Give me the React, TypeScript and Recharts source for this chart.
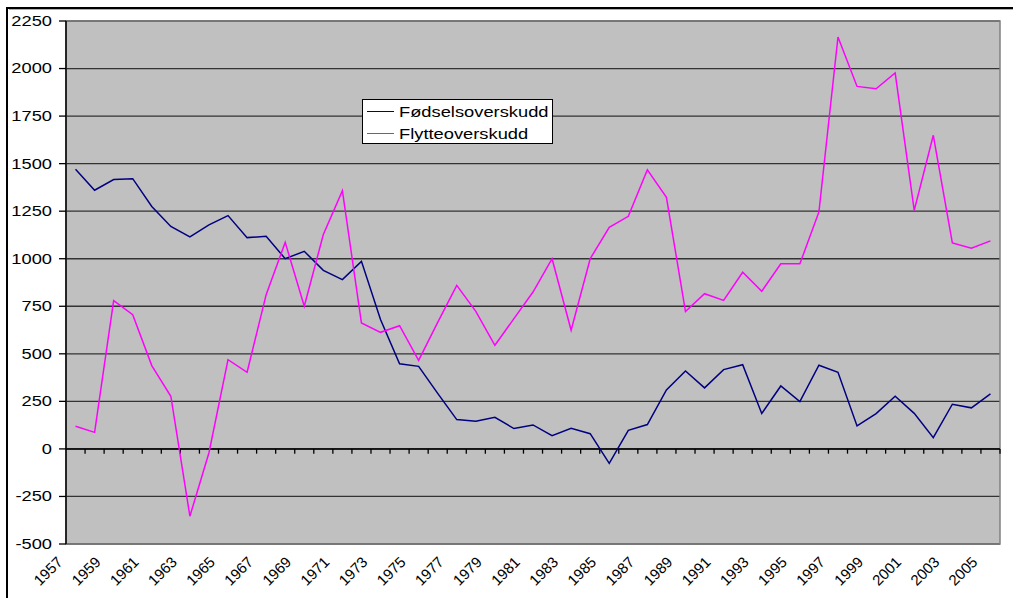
import React from 'react';
import {
  LineChart,
  Line,
  XAxis,
  YAxis,
  CartesianGrid,
  ReferenceLine,
  ReferenceArea,
  Legend,
} from 'recharts';

const years = [
  1957, 1958, 1959, 1960, 1961, 1962, 1963, 1964, 1965, 1966,
  1967, 1968, 1969, 1970, 1971, 1972, 1973, 1974, 1975, 1976,
  1977, 1978, 1979, 1980, 1981, 1982, 1983, 1984, 1985, 1986,
  1987, 1988, 1989, 1990, 1991, 1992, 1993, 1994, 1995, 1996,
  1997, 1998, 1999, 2000, 2001, 2002, 2003, 2004, 2005,
];

const fodselsoverskudd = [
  1470, 1360, 1416, 1421, 1275, 1170, 1115, 1178, 1227, 1111,
  1118, 1000, 1039, 939, 890, 986, 680, 448, 434, 292,
  154, 145, 166, 107, 126, 70, 108, 80, -76, 98,
  128, 310, 410, 321, 417, 443, 186, 331, 249, 440,
  403, 121, 186, 277, 187, 59, 235, 216, 289,
];

const flytteoverskudd = [
  119, 87, 780, 706, 438, 277, -354, -20, 469, 403,
  811, 1086, 750, 1127, 1358, 662, 613, 648, 466, 665,
  860, 723, 545, 685, 825, 1000, 624, 1000, 1165, 1223,
  1468, 1323, 722, 816, 781, 929, 829, 973, 973, 1246,
  2166, 1906, 1894, 1977, 1254, 1649, 1083, 1055, 1094,
];

const yTicks = [-500, -250, 0, 250, 500, 750, 1000, 1250, 1500, 1750, 2000, 2250];
const yearLabels = [
  1957, 1959, 1961, 1963, 1965, 1967, 1969, 1971, 1973, 1975, 1977, 1979, 1981,
  1983, 1985, 1987, 1989, 1991, 1993, 1995, 1997, 1999, 2001, 2003, 2005,
];

const seriesNames = ['Fødselsoverskudd', 'Flytteoverskudd'];
const seriesKeys = ['fodsel', 'flytte'];
const seriesColors = ['#000080', '#FF00FF'];

const data = years.map((year, i) => ({
  year,
  fodsel: fodselsoverskudd[i],
  flytte: flytteoverskudd[i],
}));

// category boundaries, where Excel puts its tick marks
const boundaries = years.map((y) => y + 0.5);

const FONT = '"Liberation Sans", Arial, sans-serif';
const STRETCH = 1.22;

const YTick = ({ x, y, payload }: any) => (
  <text
    transform={`translate(${x},${y}) scale(${STRETCH},1)`}
    textAnchor="end"
    dominantBaseline="central"
    fontSize={15}
    fontFamily={FONT}
    fill="#000"
  >
    {payload.value}
  </text>
);

const XTick = ({ x, y, payload }: any) => (
  <text
    transform={`translate(${x - 12},${y + 19}) rotate(-45)`}
    textAnchor="end"
    fontSize={15}
    fontFamily={FONT}
    fill="#000"
  >
    {payload.value}
  </text>
);

const LegendBox = () => (
  <div
    style={{
      width: 191,
      height: 45,
      boxSizing: 'border-box',
      border: '1px solid #000',
      background: '#fff',
      paddingLeft: 4,
    }}
  >
    {seriesNames.map((name, i) => (
      <div key={name} style={{ display: 'flex', alignItems: 'center', height: 22 }}>
        <span
          style={{
            display: 'inline-block',
            width: 27,
            borderTop: `1.5px solid ${seriesColors[i]}`,
            marginRight: 5,
          }}
        />
        <span
          style={{
            display: 'inline-block',
            fontFamily: FONT,
            fontSize: 15,
            color: '#000',
            whiteSpace: 'nowrap',
            transform: `scaleX(${STRETCH})`,
            transformOrigin: 'left center',
          }}
        >
          {name}
        </span>
      </div>
    ))}
  </div>
);

export default function App() {
  return (
    <div
      style={{
        position: 'absolute',
        left: 0,
        top: 0,
        width: 1013,
        height: 598,
        overflow: 'hidden',
        background: '#fff',
      }}
    >
      <div style={{ position: 'absolute', left: 7, top: 7, width: 1006, height: 2, background: '#000' }} />
      <div style={{ position: 'absolute', left: 9, top: 9, width: 1004, height: 1, background: '#b0b0b0' }} />
      <div style={{ position: 'absolute', left: 6, top: 7, width: 2, height: 591, background: '#000' }} />
      <div style={{ position: 'absolute', left: 9, top: 9 }}>
        <LineChart
          width={1004}
          height={589}
          data={data}
          margin={{ top: 12, right: 13, left: 0, bottom: 0 }}
        >
          <CartesianGrid fill="#C0C0C0" vertical={false} stroke="#333" strokeWidth={1.3} />
          <ReferenceArea
            x1={1956.5}
            x2={2005.5}
            y1={-500}
            y2={2250}
            fill="none"
            stroke="#808080"
            strokeWidth={1.5}
          />
          <XAxis
            dataKey="year"
            type="number"
            domain={[1956.5, 2005.5]}
            ticks={yearLabels}
            interval={0}
            axisLine={false}
            tickLine={false}
            tickSize={0}
            tickMargin={0}
            height={54}
            tick={<XTick />}
          />
          <YAxis
            domain={[-500, 2250]}
            ticks={yTicks}
            interval={0}
            width={57}
            axisLine={{ stroke: '#000', strokeWidth: 1.5 }}
            tickLine={{ stroke: '#000', strokeWidth: 1.3 }}
            tickSize={7}
            tickMargin={7}
            tick={<YTick />}
          />
          <ReferenceLine y={0} stroke="#000" strokeWidth={1.5} />
          {boundaries.map((b) => (
            <ReferenceLine
              key={b}
              segment={[
                { x: b, y: 0 },
                { x: b, y: -25 },
              ]}
              stroke="#000"
              strokeWidth={1.3}
            />
          ))}
          <Legend
            layout="vertical"
            align="center"
            verticalAlign="middle"
            content={<LegendBox />}
            wrapperStyle={{ left: 353, top: 90, width: 191 }}
          />
          {seriesKeys.map((key, i) => (
            <Line
              key={key}
              type="linear"
              dataKey={key}
              name={seriesNames[i]}
              stroke={seriesColors[i]}
              strokeWidth={1.5}
              dot={false}
              isAnimationActive={false}
            />
          ))}
        </LineChart>
      </div>
    </div>
  );
}
